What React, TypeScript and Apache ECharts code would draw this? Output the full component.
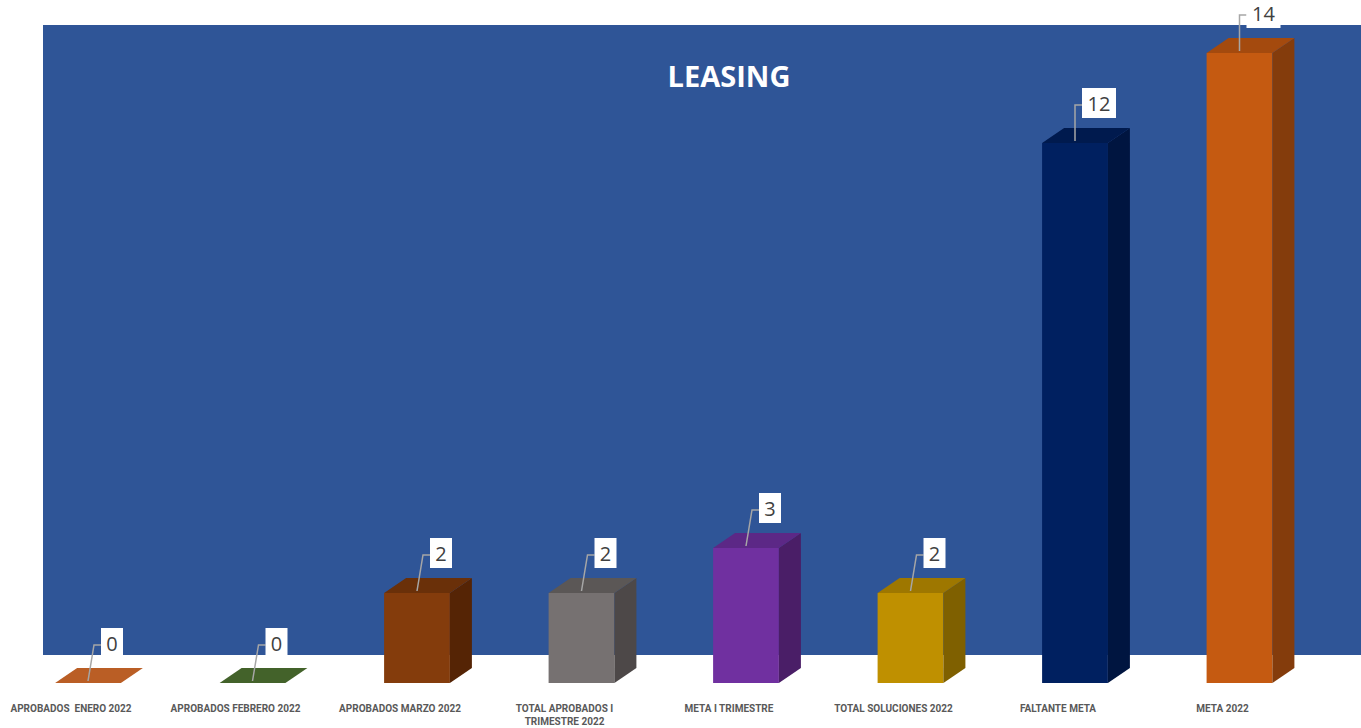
import React, { useEffect, useRef } from "react";
import * as echarts from "echarts";

const categories = [
  "APROBADOS  ENERO 2022",
  "APROBADOS FEBRERO 2022",
  "APROBADOS MARZO 2022",
  "TOTAL APROBADOS I\nTRIMESTRE 2022",
  "META I TRIMESTRE",
  "TOTAL SOLUCIONES 2022",
  "FALTANTE META",
  "META 2022",
];
const values = [0, 0, 2, 2, 3, 2, 12, 14];
const frontColors = ["#C0622A", "#466429", "#843C0C", "#767171", "#7030A0", "#BF9000", "#002060", "#C55A11"];
const sideColors = ["#7A3A14", "#2C4019", "#552405", "#4D4848", "#4A1E67", "#7F6000", "#001540", "#843C0C"];
const topColors = ["#BA5E25", "#43622A", "#6A3009", "#5B5756", "#5C2886", "#9E7700", "#001A4E", "#A44A0E"];
const chartTitle = "LEASING";

export default function App() {
  const ref = useRef<HTMLDivElement>(null);
  useEffect(() => {
    if (!ref.current) return;
    const chart = echarts.init(ref.current, null, { renderer: "svg" });
    const DX = 22;
    const DY = 15;
    const renderItem = (params: any, api: any) => {
      const i = api.value(0);
      const v = api.value(1);
      const top = api.coord([i, v]);
      const base = api.coord([i, 0]);
      const bw = api.size([1, 0])[0] * 0.4;
      const cx = top[0];
      const x0 = cx - bw / 2;
      const x1 = x0 + bw;
      const ty = top[1];
      const by = base[1];
      const children: any[] = [];
      if (by - ty > 0.5) {
        children.push({
          type: "rect",
          shape: { x: x0, y: ty, width: bw, height: by - ty },
          style: { fill: frontColors[i] },
        });
        children.push({
          type: "polygon",
          shape: { points: [[x1, ty], [x1 + DX, ty - DY], [x1 + DX, by - DY], [x1, by]] },
          style: { fill: sideColors[i] },
        });
      }
      children.push({
        type: "polygon",
        shape: { points: [[x0, ty], [x0 + DX, ty - DY], [x1 + DX, ty - DY], [x1, ty]] },
        style: { fill: topColors[i] },
      });
      const label = String(v);
      const tx = cx + 24;
      const tyL = ty - 40;
      const boxW = 12 * label.length + 10;
      const boxH = 30;
      const boxL = tx - boxW / 2;
      children.push({
        type: "polyline",
        shape: { points: [[boxL, tyL + 2], [boxL - 7, tyL + 2], [cx, ty - 2]] },
        style: { stroke: "#A6A6A6", lineWidth: 1.5, fill: "none" },
        z2: 5,
      });
      children.push({
        type: "rect",
        shape: { x: boxL, y: tyL - boxH / 2, width: boxW, height: boxH },
        style: { fill: "#FFFFFF" },
        z2: 6,
      });
      children.push({
        type: "text",
        style: {
          x: tx,
          y: tyL,
          text: label,
          fill: "#404040",
          fontSize: 20,
          fontFamily: "Open Sans",
          align: "center",
          verticalAlign: "middle",
        },
        z2: 7,
      });
      return { type: "group", children };
    };

    chart.setOption({
      animation: false,
      backgroundColor: "#FFFFFF",
      grid: { left: 5.75, width: 1316, top: 53, bottom: 45, containLabel: false },
      graphic: [
        {
          type: "rect",
          shape: { x: 43, y: 25, width: 1318, height: 630 },
          style: { fill: "#2F5597" },
          z: -10,
          silent: true,
        },
        {
          type: "text",
          x: 729,
          y: 75,
          style: {
            text: chartTitle,
            fill: "#FFFFFF",
            fontSize: 29,
            fontWeight: "bold",
            fontFamily: "Open Sans",
            align: "center",
            verticalAlign: "middle",
          },
          z: -5,
        },
      ],
      xAxis: {
        type: "category",
        data: categories,
        axisLine: { show: false },
        axisTick: { show: false },
        splitLine: { show: false },
        axisLabel: {
          interval: 0,
          margin: 19,
          fontSize: 10,
          fontWeight: "bold",
          color: "#595959",
          fontFamily: "Liberation Sans Narrow, Roboto, sans-serif",
          lineHeight: 13,
          padding: [0, 34, 0, 0],
        },
      },
      yAxis: {
        type: "value",
        min: 0,
        max: 14,
        show: false,
      },
      series: [
        {
          type: "custom",
          renderItem,
          encode: { x: 0, y: 1 },
          data: values.map((v, i) => [i, v]),
          clip: false,
          z: 2,
        },
      ],
    });
    return () => chart.dispose();
  }, []);
  return (
    <div
      ref={ref}
      style={{ position: "fixed", left: 0, top: 0, width: 1361, height: 728 }}
    />
  );
}
